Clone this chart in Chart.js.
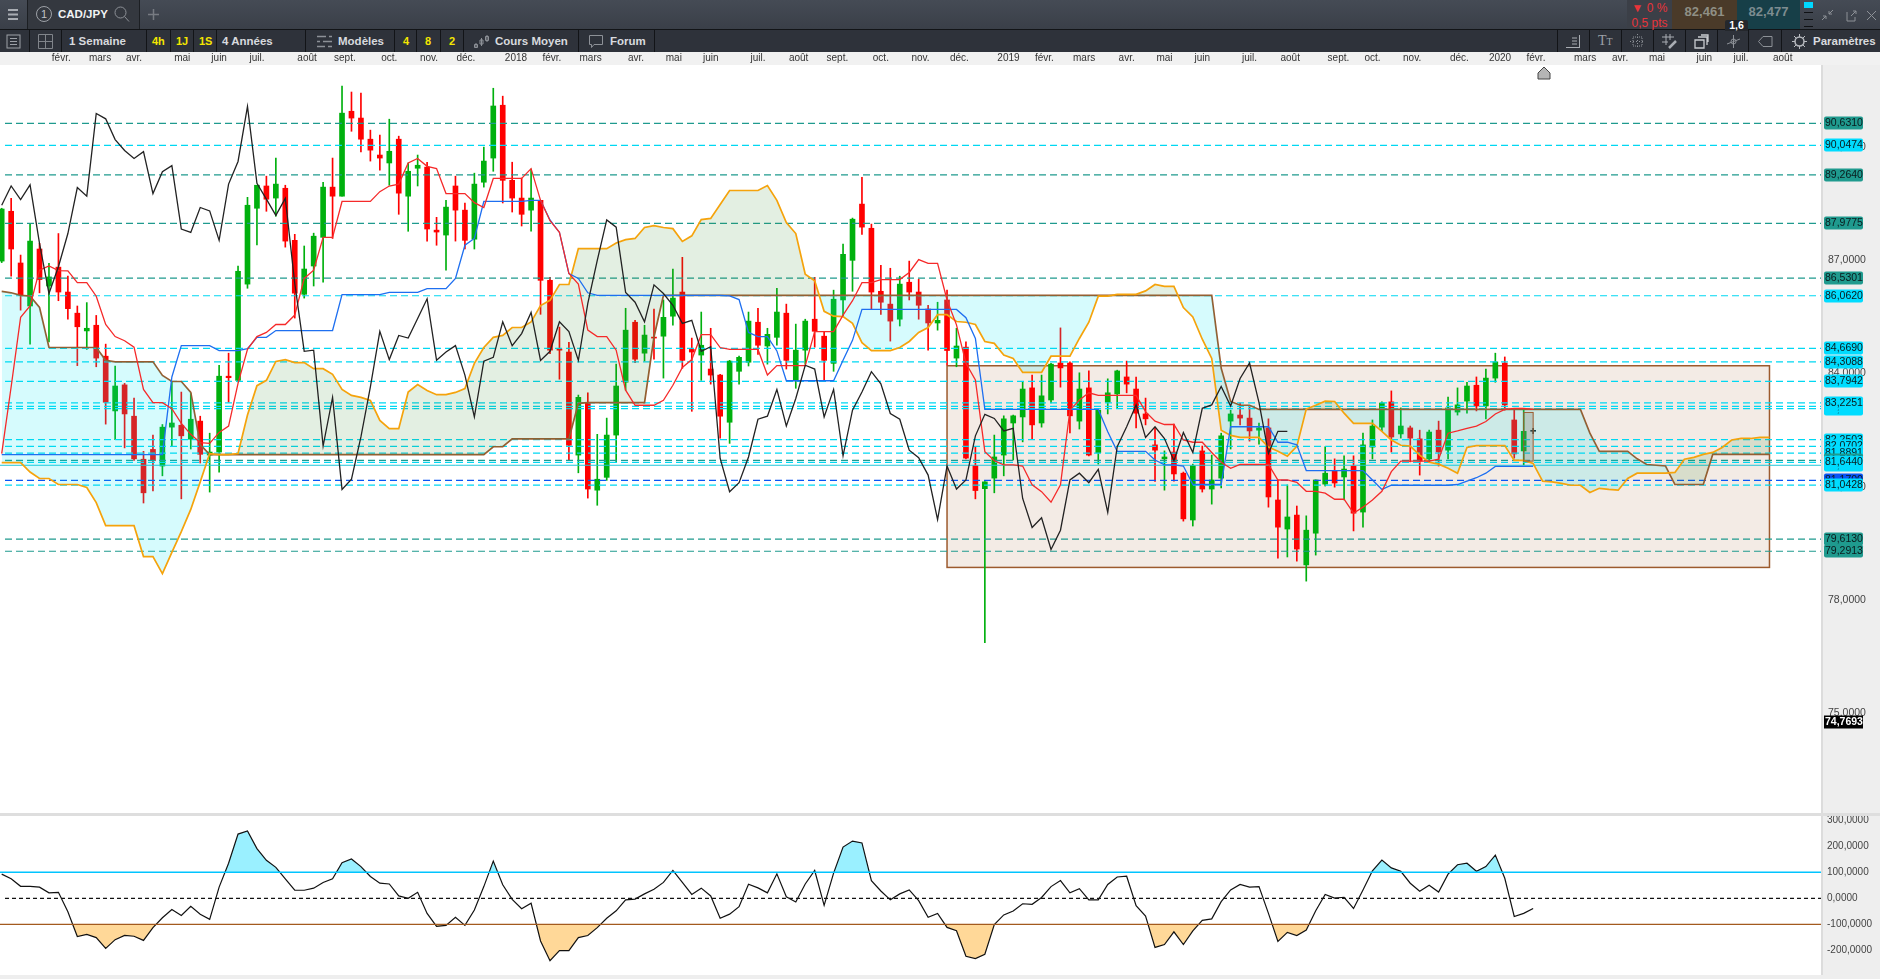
<!DOCTYPE html>
<html lang="fr">
<head>
<meta charset="utf-8">
<title>CAD/JPY</title>
<script src="https://cdn.jsdelivr.net/npm/chart.js@4"></script>
<style>
html, body { margin: 0; padding: 0; background: #fff; }
body { position: relative; width: 1880px; height: 979px; overflow: hidden; font-family: "Liberation Sans", Arial, sans-serif; }
.abs { position: absolute; }
#row1 { left: 0; top: 0; width: 1880px; height: 29px; background: linear-gradient(#454b55, #3a3f48); }
#row2 { left: 0; top: 30px; width: 1880px; height: 22px; background: #2e323a; }
#sep { left: 0; top: 29px; width: 1880px; height: 1px; background: #121417; }
#strip { left: 0; top: 52px; width: 1880px; height: 13px; background: #f1f1f1; }
#side { left: 1821px; top: 65px; width: 59px; height: 914px; background: #eeeeee; border-left: 2px solid #dcdcdc; box-sizing: border-box; }
#band { left: 0; top: 813px; width: 1880px; height: 3px; background: #dedede; }
#foot { left: 0; top: 975px; width: 1880px; height: 4px; background: #eeeeee; }
canvas { position: absolute; left: 0; }
#mainChart { top: 52px; }
#cciChart { top: 816px; }
.t { position: absolute; color: #d8dade; font-size: 11.5px; font-weight: bold; line-height: 22px; top: 30px; white-space: nowrap; }
.y { color: #f4e600; font-size: 11px; }
.v { position: absolute; top: 30px; width: 1px; height: 22px; background: #121417; }
.cell { position: absolute; top: 0; height: 29px; }
.ic { position: absolute; }
</style>
</head>
<body>
<div class="abs" id="row1"></div>
<div class="abs" id="sep"></div>
<div class="abs" id="row2"></div>
<div class="abs" id="strip"></div>
<div class="abs" id="side"></div>
<div class="abs" id="band"></div>
<div class="abs" id="foot"></div>

<div class="cell" style="left:27px;width:111px;background:#34383f;border-left:1px solid #1c1f23;border-right:1px solid #1c1f23"></div>
<svg class="ic" style="left:8px;top:9px" width="11" height="12"><path d="M0 1h10M0 5.5h10M0 10h10" stroke="#a9adb3" stroke-width="2"/></svg>
<svg class="ic" style="left:35px;top:5px" width="18" height="18"><circle cx="9" cy="9" r="7.5" fill="none" stroke="#9da1a7"/><text x="9" y="13" font-size="11" text-anchor="middle" fill="#c0c3c7" font-family="Liberation Sans">1</text></svg>
<div class="abs" style="left:58px;top:0;line-height:28px;color:#f2f3f4;font-size:11.5px;font-weight:bold">CAD/JPY</div>
<svg class="ic" style="left:114px;top:6px" width="16" height="17"><circle cx="6.5" cy="6.5" r="5.5" fill="none" stroke="#8d9197"/><path d="M10.5 10.5l4.5 5" stroke="#8d9197"/></svg>
<svg class="ic" style="left:148px;top:9px" width="11" height="11"><path d="M5.5 0v11M0 5.5h11" stroke="#777b82" stroke-width="1.5"/></svg>

<div class="cell" style="left:1627px;width:45px;background:#3b3f47"></div>
<div class="abs" style="left:1627px;top:1px;width:45px;text-align:center;color:#e8343a;font-size:12px;line-height:15px">▼ 0 %<br>0,5 pts</div>
<div class="cell" style="left:1672px;width:65px;background:#4a3a29;color:#8f8f85;font-size:13px;font-weight:bold;line-height:24px;text-align:center">82,461</div>
<div class="cell" style="left:1737px;width:63px;background:#173f48;color:#7d8c90;font-size:13px;font-weight:bold;line-height:24px;text-align:center">82,477</div>
<div class="abs" style="left:1725px;top:20px;width:23px;height:11px;background:#24272c;color:#fff;font-size:10.5px;font-weight:bold;line-height:11px;text-align:center;border-radius:2px 2px 0 0">1,6</div>
<svg class="ic" style="left:1804px;top:2px" width="10" height="26"><rect width="9" height="6" fill="#00d8ff"/><path d="M0 10.5h9M0 17.5h9M0 24.5h9" stroke="#0f1114"/></svg>
<svg class="ic" style="left:1821px;top:9px" width="59" height="13"><path d="M1 11l4-4M5 10V7H2M12 1L8 5M8 2v3h3" stroke="#8d9197" fill="none"/><path d="M26 3v9h8V8M30 7l5-5M32 2h3v3" stroke="#8d9197" fill="none"/><path d="M46 2l9 9M55 2l-9 9" stroke="#8d9197"/></svg>

<div class="v" style="left:29px"></div><div class="v" style="left:61px"></div><div class="v" style="left:146px"></div><div class="v" style="left:170px"></div>
<div class="v" style="left:193px"></div><div class="v" style="left:216px"></div><div class="v" style="left:305px"></div><div class="v" style="left:394px"></div>
<div class="v" style="left:416px"></div><div class="v" style="left:440px"></div><div class="v" style="left:463px"></div><div class="v" style="left:578px"></div>
<div class="v" style="left:654px"></div><div class="v" style="left:1557px"></div><div class="v" style="left:1589px"></div><div class="v" style="left:1621px"></div>
<div class="v" style="left:1653px"></div><div class="v" style="left:1685px"></div><div class="v" style="left:1717px"></div><div class="v" style="left:1748px"></div><div class="v" style="left:1781px"></div>
<svg class="ic" style="left:6px;top:34px" width="15" height="15"><rect x="1" y="1" width="13" height="13" fill="none" stroke="#9da1a7"/><path d="M4 4.5h7M4 7.5h7M4 10.5h7" stroke="#9da1a7"/></svg>
<svg class="ic" style="left:38px;top:34px" width="15" height="15"><path d="M.5.5h14v14H.5zM7.5.5v14M.5 7.5h14" fill="none" stroke="#80848a"/></svg>
<div class="t" style="left:69px">1 Semaine</div>
<div class="t y" style="left:152px">4h</div><div class="t y" style="left:176px">1J</div><div class="t y" style="left:199px">1S</div>
<div class="t" style="left:222px">4 Années</div>
<svg class="ic" style="left:317px;top:35px" width="15" height="13"><path d="M0 1.5h9M12 1.5h3M0 6.5h3M6 6.5h9M0 11.5h8M11 11.5h4" stroke="#8d9197" stroke-width="1.5"/></svg>
<div class="t" style="left:338px">Modèles</div>
<div class="t y" style="left:403px">4</div><div class="t y" style="left:425px">8</div><div class="t y" style="left:449px">2</div>
<svg class="ic" style="left:474px;top:34px" width="15" height="15"><path d="M2 9v5M7.5 4v8M13 1v7" stroke="#8d9197"/><path d="M.5 10.5h3v3h-3zM6 6h3v4H6zM11.5 2.5h3v4h-3z" fill="none" stroke="#8d9197"/></svg>
<div class="t" style="left:495px">Cours Moyen</div>
<svg class="ic" style="left:589px;top:35px" width="14" height="14"><path d="M.5.5h13v9H5l-2.5 3v-3h-2z" fill="none" stroke="#8d9197"/></svg>
<div class="t" style="left:610px">Forum</div>
<svg class="ic" style="left:1566px;top:35px" width="14" height="13"><path d="M0 12.5h13.500M13.500 0v13M6 3h5M6 6h5M6 9h5" stroke="#a9adb3"/></svg>
<div class="t" style="left:1598px;font-weight:normal;color:#9da1a7;font-family:'Liberation Serif',serif;font-size:14px">T<span style="font-size:10px">T</span></div>
<svg class="ic" style="left:1630px;top:34px" width="15" height="15"><path d="M3 3h9v9H3z" fill="none" stroke="#8d9197" stroke-dasharray="1 1"/><path d="M7.500 0v15M0 7.500h15" stroke="#8d9197" stroke-dasharray="1 2"/></svg>
<svg class="ic" style="left:1662px;top:34px" width="15" height="15"><path d="M4 0v11M8 0v6M0 3h12M0 8h6" stroke="#a9adb3"/><path d="M7 14l7-7" stroke="#a9adb3" stroke-width="2.500"/></svg>
<svg class="ic" style="left:1694px;top:34px" width="15" height="15"><path d="M1 6h9v8H1zM4 3h9v8M7 1h7v7" fill="none" stroke="#c8cbcf" stroke-width="1.300"/></svg>
<svg class="ic" style="left:1726px;top:35px" width="15" height="13"><path d="M1 9l13-5" stroke="#8d9197"/><circle cx="7.500" cy="6.500" r="2.500" fill="none" stroke="#8d9197"/><path d="M7.500 0v13" stroke="#8d9197"/></svg>
<svg class="ic" style="left:1758px;top:36px" width="15" height="11"><path d="M14 .5H5L.5 5.500 5 10.500h9z" fill="none" stroke="#8d9197"/></svg>
<svg class="ic" style="left:1792px;top:34px" width="15" height="15"><circle cx="7.500" cy="7.500" r="4.500" fill="none" stroke="#b9bcc1" stroke-width="1.500"/><path d="M7.500 0v3M7.500 12v3M0 7.500h3M12 7.500h3M2 2l2 2M11 11l2 2M13 2l-2 2M2 13l2-2" stroke="#b9bcc1"/></svg>
<div class="t" style="left:1813px">Paramètres</div>

<canvas id="mainChart" width="1880" height="761"></canvas>
<canvas id="cciChart" width="1880" height="159"></canvas>
<svg class="ic" style="left:1537px;top:66px" width="14" height="14"><path d="M7 1l6 6v6H1V7z" fill="#b5b5b5" stroke="#444"/></svg>

<script>
const highs = [
88.38,88.64,87.14,87.96,87.45,86.92,87.71,86.58,85.79,85.88,
85.54,84.78,84.20,83.74,83.35,81.94,82.37,82.65,83.78,83.51,
83.47,82.87,82.42,84.22,84.54,86.85,88.67,88.99,89.23,89.71,
88.99,87.69,87.38,87.72,89.07,89.71,91.62,91.46,91.43,90.45,
90.32,90.74,90.29,89.58,89.79,89.60,88.14,88.59,89.23,88.52,
89.31,90.00,91.56,91.35,89.60,89.18,89.42,88.59,86.55,85.23,
84.83,83.43,83.49,82.39,82.82,84.25,85.73,85.41,85.28,85.71,
85.95,86.77,87.08,84.94,85.63,85.20,83.98,84.35,84.46,85.63,
85.73,85.20,86.26,85.84,85.31,85.44,86.55,85.10,86.21,87.43,
88.12,89.20,87.96,86.87,86.79,86.58,86.98,86.50,85.81,85.89,
86.21,85.20,84.84,82.06,81.14,82.37,82.88,82.90,83.79,83.96,
83.96,84.27,85.21,84.31,84.02,84.07,83.03,83.86,84.09,84.33,
83.91,83.35,82.55,81.95,82.66,81.39,81.60,82.08,81.84,82.42,
83.03,83.22,83.14,82.69,82.80,81.18,81.05,80.49,80.23,81.18,
82.06,81.74,81.82,81.82,82.42,82.77,83.25,83.54,83.09,82.61,
82.50,82.50,82.74,83.38,83.62,83.77,83.91,84.12,84.54,84.44,
83.03,83.07,82.55];
const lows = [
86.94,86.58,85.68,84.78,86.14,84.84,85.93,85.44,84.21,84.64,
84.18,82.66,82.25,82.03,81.70,80.57,80.89,81.29,82.06,80.68,
82.00,81.63,80.86,81.39,83.24,83.78,86.26,87.41,88.30,88.17,
87.35,85.47,86.00,86.32,86.42,87.58,88.70,90.42,89.87,89.63,
89.39,88.99,88.22,87.77,88.97,87.51,87.40,86.74,87.51,87.30,
87.30,88.94,89.36,88.52,88.28,87.91,87.77,85.57,84.53,83.85,
81.70,81.37,80.70,80.51,81.17,81.65,83.56,84.29,84.33,84.38,
83.88,85.28,84.14,83.00,83.82,83.72,82.29,82.15,83.72,84.20,
84.51,84.25,84.75,84.12,83.61,84.25,84.70,83.80,84.06,85.52,
86.18,87.69,85.71,85.57,84.86,85.26,85.95,85.44,84.62,85.15,
84.23,84.18,81.74,80.68,76.87,80.84,81.29,81.71,82.19,82.27,
82.58,83.22,83.64,82.43,82.53,81.82,81.60,82.93,83.09,83.49,
82.56,82.64,81.14,80.91,81.15,80.09,79.96,80.86,80.54,80.97,
82.00,82.64,82.21,82.13,80.46,79.11,79.14,79.03,78.50,79.19,
81.02,80.99,80.65,79.83,79.93,81.74,82.48,81.92,82.29,81.66,
81.31,81.66,81.55,81.74,82.90,82.95,83.01,82.80,83.77,83.03,
81.76,81.58,82.41];
const opens = [
86.98,88.30,86.93,85.79,87.30,86.32,86.82,86.16,85.60,85.13,
85.28,84.46,83.01,83.70,82.87,81.73,81.99,81.55,82.58,82.63,
82.26,82.74,81.84,81.92,83.93,83.82,86.37,88.38,88.97,88.65,
88.91,87.53,86.10,86.85,87.61,88.94,88.70,90.95,90.77,90.21,
89.79,89.58,90.21,88.70,89.44,89.47,87.80,87.67,88.97,88.33,
87.56,89.07,89.71,91.11,89.12,88.65,88.33,88.59,86.47,84.65,
84.57,81.84,83.22,80.91,81.25,82.37,83.77,85.36,84.54,84.96,
84.99,85.52,86.16,84.64,84.49,84.12,83.96,82.71,84.06,84.30,
85.36,84.73,84.96,85.60,83.82,84.62,85.44,84.99,84.27,85.95,
87.00,88.49,87.85,86.18,85.84,85.44,86.42,86.16,85.71,85.34,
85.95,84.41,84.70,81.56,80.95,81.23,81.84,82.69,82.85,83.62,
82.69,83.30,84.28,84.28,82.74,83.62,81.90,83.24,83.46,83.91,
83.59,82.93,82.11,81.74,81.92,81.36,80.12,81.95,80.94,81.23,
82.74,82.90,82.82,82.50,82.56,80.65,79.88,80.25,78.93,79.77,
81.07,81.42,81.26,81.55,80.33,82.05,82.58,83.25,82.40,82.56,
82.27,81.74,82.50,81.97,82.98,83.27,83.69,83.14,83.88,84.28,
82.77,81.95,82.47];
const closes = [
88.36,87.30,86.08,87.51,86.49,86.56,86.16,85.72,85.24,85.20,
84.41,83.24,83.67,82.93,81.74,80.84,81.69,82.58,82.69,82.35,
82.79,81.86,81.92,83.93,83.89,86.71,88.46,88.99,88.62,89.02,
87.51,86.13,86.77,87.64,88.94,88.70,90.90,90.77,90.21,89.92,
89.71,89.89,88.78,89.36,89.52,87.83,87.75,88.41,88.33,87.53,
89.02,89.63,91.09,89.12,88.65,88.22,88.65,86.47,84.62,84.62,
82.10,83.37,80.94,81.20,82.37,83.67,85.15,84.38,85.02,84.94,
85.49,86.00,84.35,84.57,84.75,83.96,82.87,84.33,84.43,85.39,
84.75,85.04,85.63,84.35,84.62,85.39,85.12,84.35,85.97,87.16,
88.09,87.88,86.16,85.89,85.39,86.37,86.16,85.81,85.34,85.41,
84.61,84.73,81.76,80.90,81.13,81.79,82.80,82.88,83.59,82.64,
83.41,84.25,84.15,82.88,83.59,81.84,83.03,83.49,84.07,83.72,
82.95,82.80,81.97,81.79,81.34,80.15,81.56,80.94,81.18,82.35,
82.93,82.82,82.48,82.56,80.73,79.93,80.20,79.35,79.85,81.18,
81.36,81.10,81.47,80.30,82.11,82.61,83.22,82.32,82.61,82.29,
81.68,82.45,81.92,83.09,83.17,83.67,83.14,83.88,84.31,83.17,
81.87,82.47,82.47];

const tenkan = [
81.88,83.65,85.49,85.79,86.74,86.85,86.73,86.72,86.41,86.41,
86.05,85.30,84.98,84.87,84.70,83.58,83.23,83.23,83.07,82.68,
82.39,82.17,82.15,82.44,82.61,83.74,84.64,84.98,85.09,85.30,
85.30,85.55,86.52,86.74,87.61,87.61,88.56,88.56,88.56,88.56,
88.82,88.97,89.02,89.58,89.70,89.49,89.43,88.77,88.77,88.77,
88.53,88.40,89.17,89.17,89.17,89.17,89.43,88.59,88.05,87.74,
86.65,86.37,85.15,84.98,84.98,84.62,83.56,83.16,83.16,83.16,
83.29,83.69,84.16,84.37,85.03,85.03,84.69,84.64,84.64,84.64,
84.64,83.96,84.21,84.21,84.21,84.21,85.11,85.11,85.11,85.55,
85.93,86.41,86.41,86.49,86.49,86.49,86.68,87.02,86.92,86.92,
85.95,85.29,84.27,83.83,81.93,81.69,81.58,81.58,81.55,81.05,
80.87,80.59,81.05,83.03,83.30,83.49,83.42,83.42,83.42,83.42,
83.42,82.99,82.74,82.65,82.65,82.24,82.18,82.18,81.91,81.65,
81.49,81.59,81.59,81.59,81.59,81.18,81.18,81.12,80.88,80.88,
80.83,80.67,80.67,80.30,80.46,80.65,80.88,81.40,81.68,81.68,
81.68,81.68,81.73,82.42,82.48,82.55,82.61,82.73,82.93,83.05,
83.08,83.08,83.05];
const kijun = [
81.85,81.85,81.85,81.85,81.85,81.85,81.85,81.85,81.85,81.85,
81.85,81.85,81.85,81.85,81.85,81.85,81.85,81.85,83.91,84.74,
84.74,84.74,84.74,84.61,84.61,84.61,84.66,84.96,84.96,85.14,
85.14,85.14,85.14,85.14,85.14,85.14,86.09,86.09,86.09,86.09,
86.09,86.15,86.15,86.15,86.15,86.25,86.25,86.25,86.52,87.40,
87.58,88.56,88.56,88.56,88.56,88.56,88.59,88.59,88.07,87.74,
86.65,86.52,86.14,86.07,86.07,86.07,86.07,86.07,86.07,86.07,
86.07,86.07,86.07,86.07,86.07,86.07,86.07,86.06,85.96,85.09,
84.98,84.98,84.60,83.81,83.81,83.81,83.81,83.81,83.81,84.35,
84.88,85.70,85.70,85.70,85.70,85.70,85.70,85.70,85.70,85.70,
85.70,85.70,85.48,84.93,83.05,83.05,83.05,83.05,83.05,83.05,
83.05,83.05,83.05,83.05,83.05,83.05,83.05,82.46,81.94,81.94,
81.94,81.94,81.71,81.58,81.58,81.55,81.06,81.06,81.06,81.06,
82.59,82.59,82.59,82.59,82.59,82.18,82.18,82.11,81.43,81.43,
81.43,81.43,81.43,81.43,81.43,81.18,80.93,81.04,81.04,81.04,
81.04,81.04,81.04,81.04,81.06,81.15,81.24,81.36,81.54,81.54,
81.54,81.54,81.54];
const chikou = [
88.46,88.97,88.61,89.00,87.45,86.12,86.83,87.71,88.93,88.70,
90.89,90.75,90.20,89.91,89.70,89.88,88.77,89.35,89.51,87.83,
87.74,88.40,88.31,87.53,89.02,89.62,91.08,89.04,88.62,88.19,
88.64,86.39,84.59,84.62,82.08,83.37,80.93,81.20,82.32,83.65,
85.12,84.37,85.01,84.94,85.46,85.98,84.35,84.57,84.74,83.96,
82.85,84.33,84.43,85.37,84.74,85.06,85.62,84.35,84.59,85.37,
85.11,84.35,85.86,87.00,88.07,87.88,86.15,85.89,85.37,86.35,
86.12,85.81,85.33,85.41,84.59,84.71,81.75,80.87,81.11,81.79,
82.79,82.87,83.58,82.61,83.34,84.22,84.12,82.85,83.58,81.82,
83.03,83.51,84.05,83.73,82.94,82.79,81.97,81.77,81.31,80.13,
81.55,80.94,81.18,82.35,82.92,82.81,82.48,82.55,80.69,79.92,
80.18,79.34,79.85,81.18,81.36,81.11,81.46,80.32,82.06,82.59,
83.17,82.31,82.59,82.28,81.69,82.44,81.91,83.08,83.17,83.66,
83.14,83.87,84.28,83.23,81.89,82.47,82.47];
const senkouA = [
81.64,81.64,81.64,81.39,81.22,81.22,81.06,81.06,81.06,80.98,
80.58,79.97,79.97,79.97,79.97,79.15,79.15,78.70,79.26,79.81,
80.40,81.13,81.88,81.85,81.85,81.88,82.90,83.68,83.82,84.32,
84.37,84.29,84.29,84.13,84.13,83.98,83.58,83.42,83.37,83.29,
82.76,82.54,82.54,83.51,83.71,83.55,83.44,83.44,83.50,83.60,
84.27,84.69,84.96,85.01,85.22,85.22,85.37,85.80,85.94,86.36,
86.36,87.31,87.31,87.31,87.31,87.46,87.55,87.58,87.87,87.92,
87.87,87.84,87.50,87.65,88.08,88.11,88.48,88.85,88.85,88.85,
88.85,88.98,88.59,88.00,87.71,86.63,86.46,85.65,85.52,85.51,
85.33,84.82,84.61,84.61,84.61,84.69,84.85,85.09,85.22,85.56,
85.56,85.38,85.36,85.30,84.85,84.80,84.49,84.40,84.03,84.03,
84.03,84.46,84.46,84.46,84.93,85.36,86.05,86.05,86.10,86.10,
86.10,86.19,86.36,86.31,86.31,85.75,85.50,84.91,84.40,82.50,
82.36,82.31,82.31,82.31,82.05,81.94,81.81,82.07,83.06,83.16,
83.27,83.26,82.95,82.68,82.68,82.68,82.47,82.24,82.10,82.08,
81.84,81.65,81.60,81.49,81.36,82.04,82.09,82.09,82.09,82.09,
81.70,81.70,81.62,81.15,81.13,81.09,81.04,81.04,80.85,80.96,
80.93,80.91,81.22,81.36,81.36,81.36,81.36,81.38,81.73,81.78,
81.86,81.91,82.04,82.24,82.28,82.28,82.31,82.31];
const senkouB = [
86.18,86.14,86.07,86.05,85.75,84.69,84.69,84.69,84.69,84.69,
84.69,84.35,84.31,84.31,84.31,84.31,84.31,83.95,83.79,83.79,
83.50,82.12,81.85,81.85,81.85,81.85,81.85,81.85,81.85,81.85,
81.85,81.85,81.85,81.85,81.85,81.85,81.85,81.85,81.85,81.85,
81.85,81.85,81.85,81.85,81.85,81.85,81.85,81.85,81.85,81.85,
81.85,81.85,82.06,82.06,82.27,82.27,82.27,82.27,82.27,82.27,
82.27,83.21,83.23,83.23,83.23,83.23,83.23,83.23,83.23,84.97,
86.07,86.07,86.07,86.07,86.07,86.07,86.07,86.07,86.07,86.07,
86.07,86.07,86.07,86.07,86.07,86.07,86.07,86.07,86.07,86.07,
86.07,86.07,86.07,86.07,86.07,86.07,86.07,86.07,86.07,86.07,
86.07,86.07,86.07,86.07,86.07,86.07,86.07,86.07,86.07,86.07,
86.07,86.07,86.07,86.07,86.07,86.07,86.07,86.07,86.07,86.07,
86.07,86.07,86.07,86.07,86.07,86.07,86.07,86.07,86.07,84.14,
83.26,83.16,83.16,83.05,83.05,83.05,83.05,83.05,83.05,83.05,
83.05,83.05,83.05,83.05,83.05,83.05,83.05,83.05,83.05,83.05,
83.05,83.05,83.05,83.05,83.05,83.05,83.05,83.05,83.05,83.05,
83.05,83.05,83.05,83.05,83.05,83.05,83.05,83.05,82.42,81.94,
81.94,81.94,81.94,81.74,81.59,81.57,81.55,81.06,81.06,81.06,
81.06,81.86,81.86,81.86,81.86,81.86,81.86,81.86];
const cci = [
93,75,46,46,43,21,23,-52,-147,-139,
-151,-193,-159,-143,-146,-162,-113,-75,-43,-66,
-31,-61,-81,43,135,247,259,191,146,119,
75,31,31,39,61,75,137,151,122,84,
58,55,9,0,23,-58,-108,-104,-73,-104,
-45,45,143,52,-4,-40,-19,-164,-240,-201,
-201,-151,-143,-113,-77,-48,-6,-3,17,35,
61,107,61,15,39,9,-77,-61,-32,54,
40,21,94,6,-14,55,107,-27,97,197,
220,213,68,28,-6,17,32,-9,-73,-58,
-112,-125,-223,-232,-215,-101,-64,-49,-21,-23,
3,45,68,21,37,-6,-6,53,82,85,
-28,-68,-189,-178,-129,-178,-125,-85,-79,-13,
32,53,43,45,-58,-166,-131,-143,-122,-48,
15,1,4,-39,32,106,147,117,104,58,
27,50,24,93,129,135,104,122,166,77,
-70,-58,-39];

const monthTicks = [6.3,10.4,14,19.1,23,27,32.3,36.3,41,45.2,49.1,54.4,58.2,62.3,67.1,71.1,75,80,84.3,88.4,93,97.2,101.3,106.5,110.3,114.5,119,123,127,132,136.3,141.4,145,149.2,154.2,158.5,162.3,167.5,171.2,175.1,180.1,184,188.4];
const monthLabels = ['févr.','mars','avr.','mai','juin','juil.','août','sept.','oct.','nov.','déc.','2018','févr.','mars','avr.','mai','juin','juil.','août','sept.','oct.','nov.','déc.','2019','févr.','mars','avr.','mai','juin','juil.','août','sept.','oct.','nov.','déc.','2020','févr.','mars','avr.','mai','juin','juil.','août'];
const priceTicks = [75, 78, 81, 84, 87, 90];
const cciTicks = [-200, -100, 0, 100, 200, 300];

const tealLevels = [90.6310, 89.2640, 87.9775, 86.5301, 81.70, 79.6130, 79.2913];
const cyanLevels = [90.0474, 86.0620, 84.6690, 84.3088, 83.7942, 83.2251, 83.13, 83.07, 82.2503, 82.0702, 81.8891, 81.6440, 81.0428];
const blueLevels = [81.17];
const solidLevel = 81.57;
const lastQuote = 74.7693;
// paint order of the price tags, the last one ends up on top
const tagOrder = [90.6310, 90.0474, 89.2640, 87.9775, 86.5301, 86.0620, 84.6690, 84.3088, 83.7942, 83.07, 83.13, 83.2251, 82.2503, 82.0702, 81.8891, 81.70, 81.57, 81.6440, 81.17, 81.0428, 79.6130, 79.2913];

const rangeBox = { x0: 100, x1: 187, top: 84.207, bottom: 78.863 };
const lastBox = { x0: 161, x1: 162, top: 82.97, bottom: 81.68 };

const X_MIN = -0.18, X_MAX = 192.45;
const toPoints = arr => arr.map((v, i) => ({ x: i, y: v }));
const comma = v => v.toFixed(4).replace('.', ',');
const flatLine = (v, from) => [{ x: from, y: v }, { x: X_MAX, y: v }];

const candleColor = opens.map((o, i) => closes[i] > o ? '#00b00e' : closes[i] < o ? '#ff0000' : '#222222');

function levelSet(values, color, dash) {
    return values.map(v => ({
        type: 'line', data: flatLine(v, 0.35), borderColor: color, borderWidth: 1.2,
        borderDash: dash, pointRadius: 0, order: 6
    }));
}

function fixBox(chart, box, fill, width) {
    const { ctx, scales: { x, y } } = chart;
    const px = x.getPixelForValue(box.x0), py = y.getPixelForValue(box.top);
    const w = x.getPixelForValue(box.x1) - px, h = y.getPixelForValue(box.bottom) - py;
    ctx.save();
    ctx.fillStyle = fill;
    ctx.strokeStyle = '#9c5a2d';
    ctx.lineWidth = width;
    ctx.fillRect(px, py, w, h);
    ctx.strokeRect(px, py, w, h);
    ctx.restore();
}

const boxesPlugin = {
    id: 'boxes',
    beforeDatasetsDraw(chart) { fixBox(chart, rangeBox, '#f3ebe5', 1.5); },
    afterDatasetsDraw(chart) { fixBox(chart, lastBox, 'rgba(120,100,80,0.25)', 1); }
};

function tagColor(v) {
    if (tealLevels.includes(v)) return '#1f9a8e';
    if (blueLevels.includes(v)) return '#0a55f5';
    return '#00dcff';
}

const tagsPlugin = {
    id: 'tags',
    afterDraw(chart) {
        const { ctx, scales: { y }, chartArea } = chart;
        const left = chartArea.right + 3;
        ctx.save();
        ctx.textBaseline = 'middle';
        ctx.font = '10.5px "Liberation Sans"';
        tagOrder.forEach(v => {
            const py = Math.round(y.getPixelForValue(v));
            ctx.fillStyle = tagColor(v);
            ctx.beginPath();
            ctx.roundRect(left, py - 6.5, 39, 13, 2);
            ctx.fill();
            ctx.fillStyle = '#0a1a1c';
            ctx.fillText(comma(v), left + 1, py + 0.5);
        });
        const q = Math.round(y.getPixelForValue(lastQuote));
        ctx.fillStyle = '#000';
        ctx.fillRect(left, q - 6.5, 39, 13);
        ctx.fillStyle = '#fff';
        ctx.font = 'bold 10.5px "Liberation Sans"';
        ctx.fillText(comma(lastQuote), left + 1, q + 0.5);
        ctx.restore();
    }
};

// the right axes must not push the plot area in with half a label height
const fitRightAxis = s => { s.width = 59; s.paddingTop = 0; s.paddingBottom = 0; };

new Chart(document.getElementById('mainChart'), {
    type: 'line',
    plugins: [boxesPlugin, tagsPlugin],
    data: {
        datasets: [
            { type: 'bar', label: 'Mèches', data: highs.map((h, i) => ({ x: i, y: [lows[i], h] })), backgroundColor: candleColor, barThickness: 1, grouped: false, order: 11 },
            { type: 'bar', label: 'Bougies', data: opens.map((o, i) => ({ x: i, y: [o, closes[i]] })), backgroundColor: candleColor, barThickness: 5, minBarLength: 1, grouped: false, order: 10 },
            ...levelSet(tealLevels, '#1f9a8e', [7, 4]),
            ...levelSet(cyanLevels, '#00d8f2', [7, 4]),
            ...levelSet(blueLevels, '#0a55f5', [7, 4]),
            { type: 'line', data: flatLine(solidLevel, X_MIN), borderColor: '#1fc6da', borderWidth: 1, pointRadius: 0, order: 6 },
            { type: 'line', label: 'Senkou A', data: toPoints(senkouA), borderColor: '#f5a30c', borderWidth: 1.7, pointRadius: 0, tension: 0, order: 5,
              fill: { target: '+1', above: 'rgba(60,140,50,0.14)', below: 'rgba(0,230,245,0.16)' } },
            { type: 'line', label: 'Senkou B', data: toPoints(senkouB), borderColor: '#9c5a2d', borderWidth: 1.7, pointRadius: 0, tension: 0, order: 5 },
            { type: 'line', label: 'Kijun', data: toPoints(kijun), borderColor: '#1e6ff0', borderWidth: 1.3, pointRadius: 0, tension: 0, order: 3 },
            { type: 'line', label: 'Tenkan', data: toPoints(tenkan), borderColor: '#f52a2a', borderWidth: 1.3, pointRadius: 0, tension: 0, order: 2 },
            { type: 'line', label: 'Chikou', data: toPoints(chikou), borderColor: '#222222', borderWidth: 1.3, pointRadius: 0, tension: 0, order: 1 }
        ]
    },
    options: {
        responsive: false,
        animation: false,
        layout: { padding: 0, autoPadding: false },
        plugins: { legend: { display: false }, tooltip: { enabled: false } },
        scales: {
            x: {
                type: 'linear', position: 'top', min: X_MIN, max: X_MAX, offset: false,
                grid: { display: false, drawTicks: false, offset: false }, border: { display: false },
                afterBuildTicks: s => { s.ticks = monthTicks.map(v => ({ value: v })); },
                afterFit: s => { s.height = 13; s.paddingLeft = 0; s.paddingRight = 0; },
                ticks: { autoSkip: false, maxRotation: 0, padding: 1, color: '#333', font: { family: 'Liberation Sans', size: 10 },
                    callback: (v, i) => monthLabels[i] }
            },
            y: {
                type: 'linear', position: 'right', min: 72.356, max: 92.176,
                grid: { display: false, drawTicks: false }, border: { display: false },
                afterBuildTicks: s => { s.ticks = priceTicks.map(v => ({ value: v })); },
                afterFit: fitRightAxis,
                ticks: { padding: 7, color: '#444', font: { family: 'Liberation Sans', size: 10.5 }, callback: v => comma(v) }
            }
        }
    }
});

new Chart(document.getElementById('cciChart'), {
    type: 'line',
    data: {
        datasets: [
            { data: toPoints(cci), borderColor: '#111', borderWidth: 1.2, pointRadius: 0, tension: 0, order: 1,
              fill: { target: { value: 100 }, above: '#9af0ff', below: 'rgba(0,0,0,0)' } },
            { data: toPoints(cci), borderWidth: 0, pointRadius: 0, tension: 0, order: 2,
              fill: { target: { value: -100 }, above: 'rgba(0,0,0,0)', below: '#ffd898' } },
            { data: flatLine(100, X_MIN), borderColor: '#00c4ff', borderWidth: 1.5, pointRadius: 0, order: 0 },
            { data: flatLine(0, 0.35), borderColor: '#111', borderWidth: 1.2, borderDash: [4, 3], pointRadius: 0, order: 0 },
            { data: flatLine(-100, X_MIN), borderColor: '#a35a1e', borderWidth: 1.2, pointRadius: 0, order: 0 }
        ]
    },
    options: {
        responsive: false,
        animation: false,
        layout: { padding: 0, autoPadding: false },
        plugins: { legend: { display: false }, tooltip: { enabled: false } },
        scales: {
            x: { type: 'linear', display: false, min: X_MIN, max: X_MAX },
            y: {
                type: 'linear', position: 'right', min: -295, max: 316.5,
                grid: { display: false, drawTicks: false }, border: { display: false },
                afterBuildTicks: s => { s.ticks = cciTicks.map(v => ({ value: v })); },
                afterFit: fitRightAxis,
                ticks: { padding: 6, color: '#444', font: { family: 'Liberation Sans', size: 10 }, callback: v => comma(v) }
            }
        }
    }
});
</script>
</body>
</html>
